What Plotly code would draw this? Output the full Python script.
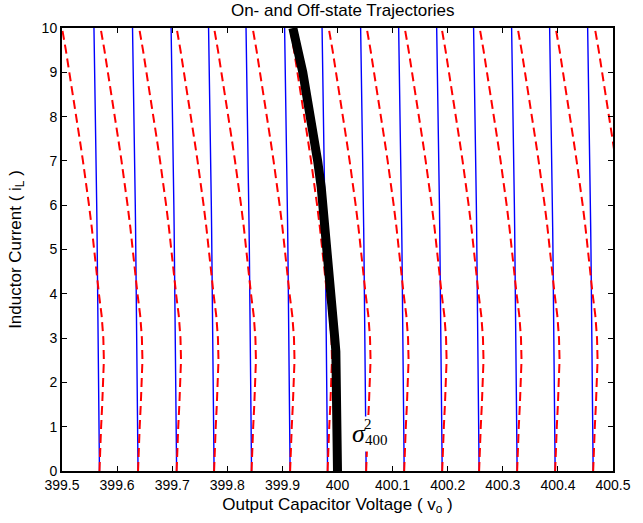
import plotly.graph_objects as go

# Inductor-current samples (A) shared by all trajectory profiles
i_samples = [0, 0.5, 1, 1.5, 2, 2.5, 3, 3.5, 4, 4.5, 5, 5.5, 6, 6.5, 7, 7.5, 8, 8.5, 9, 9.5, 10]

# Voltage deviation of an off-state trajectory from its starting voltage (V)
off_profile = [0, 0.001, 0.003, 0.005, 0.007, 0.008, 0.007, 0.004, -0.001, -0.005, -0.009,
               -0.014, -0.019, -0.024, -0.030, -0.036, -0.042, -0.048, -0.055, -0.061, -0.068]

# Voltage deviation of an on-state trajectory from its starting voltage (V)
on_profile = [0, -0.0003, -0.0005, -0.0008, -0.001, -0.0015, -0.002, -0.0025, -0.003, -0.0035, -0.004,
              -0.0045, -0.005, -0.0055, -0.006, -0.0065, -0.007, -0.0078, -0.0085, -0.0093, -0.010]

# Starting voltages of the trajectory families at i_L = 0
v_start = [399.568, 399.638, 399.708, 399.776, 399.844, 399.914, 399.982,
           400.052, 400.121, 400.190, 400.257, 400.326, 400.395, 400.464, 400.535]

# Switching surface sigma_400
sigma_i = [0, 0.5, 1, 1.5, 2, 2.4, 2.7, 3.0, 3.3, 3.6, 3.9, 4.2, 4.5, 4.8, 5.0, 5.5, 6.0, 6.4,
           7.0, 7.5, 8.0, 8.5, 9.0, 9.5, 10]
sigma_v = [400.000, 400.000, 400.000, 400.000, 399.999, 399.998, 399.997, 399.995, 399.993, 399.991,
           399.989, 399.988, 399.986, 399.984, 399.983, 399.979, 399.974, 399.9705,
           399.964, 399.958, 399.951, 399.944, 399.937, 399.928, 399.919]


def family(profile):
    xs, ys = [], []
    for v0 in v_start:
        xs += [v0 + d for d in profile] + [None]
        ys += i_samples + [None]
    return xs, ys


fig = go.Figure()

bx, by = family(on_profile)
fig.add_trace(go.Scatter(x=bx, y=by, mode="lines", line=dict(color="#0000ff", width=1.4),
                         showlegend=False, hoverinfo="skip"))

rx, ry = family(off_profile)
fig.add_trace(go.Scatter(x=rx, y=ry, mode="lines", line=dict(color="#ff0000", width=2, dash="9px,5px"),
                         showlegend=False, hoverinfo="skip"))

fig.add_trace(go.Scatter(x=sigma_v, y=sigma_i, mode="lines", line=dict(color="black", width=9),
                         showlegend=False, hoverinfo="skip"))

sans = "Liberation Sans, Arial, sans-serif"
tick_font = dict(family=sans, size=14, color="black")
title_font = dict(family=sans, size=17, color="black")

axis_common = dict(showline=True, linecolor="black", linewidth=2, mirror="ticks",
                   ticks="inside", ticklen=5, tickwidth=1, tickcolor="black",
                   showgrid=False, zeroline=False, tickfont=tick_font)

fig.update_layout(
    width=643, height=523,
    margin=dict(l=62, r=19, t=28, b=52),
    paper_bgcolor="white", plot_bgcolor="white",
    font=tick_font,
    title=dict(text="On- and Off-state Trajectories", x=0.533, xanchor="center",
               y=0.981, yanchor="middle", font=title_font),
    xaxis=dict(range=[399.5, 400.5], dtick=0.1, tick0=399.5,
               title=dict(text="Output Capacitor Voltage ( v<sub>o</sub> )", standoff=6,
                          font=title_font),
               **axis_common),
    yaxis=dict(range=[0, 10], dtick=1, tick0=0,
               title=dict(text="Inductor Current ( i<sub>L</sub> )", standoff=16,
                          font=title_font),
               **axis_common),
)

# sigma_400 label: white backing, then sigma with stacked super/subscript
serif = "Liberation Serif, Times New Roman, serif"
fig.add_annotation(x=400.055, y=0.83, xref="x", yref="y", text=" ", showarrow=False,
                   width=40, height=34, bgcolor="white", borderpad=0,
                   xanchor="center", yanchor="middle")
fig.add_annotation(x=400.039, y=0.85, xref="x", yref="y", text="<i>σ</i>", showarrow=False,
                   font=dict(family=serif, size=26, color="black"),
                   xanchor="center", yanchor="middle", borderpad=0)
fig.add_annotation(x=400.070, y=0.70, xref="x", yref="y", text="400", showarrow=False,
                   font=dict(family=serif, size=15, color="black"),
                   xanchor="center", yanchor="middle", borderpad=0)
fig.add_annotation(x=400.056, y=1.07, xref="x", yref="y", text="2", showarrow=False,
                   font=dict(family=serif, size=15, color="black"),
                   xanchor="center", yanchor="middle", borderpad=0)

fig.write_html("out.html")
